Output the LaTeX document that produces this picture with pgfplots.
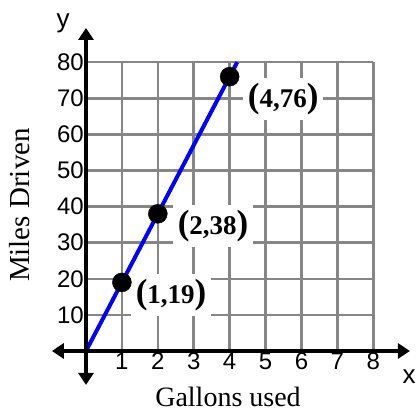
\documentclass[border=0pt]{standalone}
\usepackage{fontspec}
\setmainfont{Liberation Serif}
\setsansfont{Liberation Sans}
\usepackage{pgfplots}
\pgfplotsset{compat=1.18}
\usetikzlibrary{arrows.meta}

\newcommand{\bigp}[1]{{\fontsize{35}{35}\selectfont #1}}

\begin{document}
\begin{tikzpicture}
\useasboundingbox (0pt,0pt) rectangle (418pt,412pt);
\begin{axis}[
  at={(86pt,61pt)}, anchor=origin,
  scale only axis, width=358pt, height=357pt,
  xmin=-0.95, xmax=9.02, ymin=-9.4, ymax=89.5,
  axis lines=middle,
  axis line style={line width=3.5pt,
    {Triangle[width=15pt,length=12pt]}-{Triangle[width=15pt,length=12pt]}},
  xtick={1,...,8}, ytick={10,20,...,80},
  major tick length=0pt,
  tick label style={font=\sffamily\fontsize{24}{24}\selectfont, inner sep=2pt},
  /pgf/number format/assume math mode=true,
  axis on top,
  clip=false,
]
% grid only over the first quadrant
\pgfplotsinvokeforeach{1,...,8}{
  \draw[gray!95, line width=2.5pt] (axis cs:#1,0) -- (axis cs:#1,80);
}
\pgfplotsinvokeforeach{10,20,...,80}{
  \draw[gray!95, line width=2.5pt] (axis cs:0,#1) -- (axis cs:8,#1);
}
% line y = 19x
\addplot[blue, line width=4pt] coordinates {(0,0) (4.21,80)};
\addplot[only marks, mark=*, mark size=9.5pt, black] coordinates {(1,19) (2,38) (4,76)};
% point labels
\node[fill=white, inner sep=5pt, font=\bfseries\fontsize{27}{27}\selectfont] at (axis cs:2.37,15.5) {\bigp{(}1,19\bigp{)}};
\node[fill=white, inner sep=5pt, font=\bfseries\fontsize{27}{27}\selectfont] at (axis cs:3.54,34.6) {\bigp{(}2,38\bigp{)}};
\node[fill=white, inner sep=5pt, font=\bfseries\fontsize{27}{27}\selectfont] at (axis cs:5.49,69.8) {\bigp{(}4,76\bigp{)}};
\end{axis}
\node[font=\fontsize{29}{29}\selectfont, rotate=90] at (20pt,207pt) {Miles Driven};
\node[font=\fontsize{28}{28}\selectfont] at (228pt,15pt) {Gallons used};
\node[font=\sffamily\fontsize{26}{26}\selectfont] at (63pt,389pt) {y};
\node[font=\sffamily\fontsize{26}{26}\selectfont] at (409pt,35pt) {x};
\end{tikzpicture}
\end{document}
